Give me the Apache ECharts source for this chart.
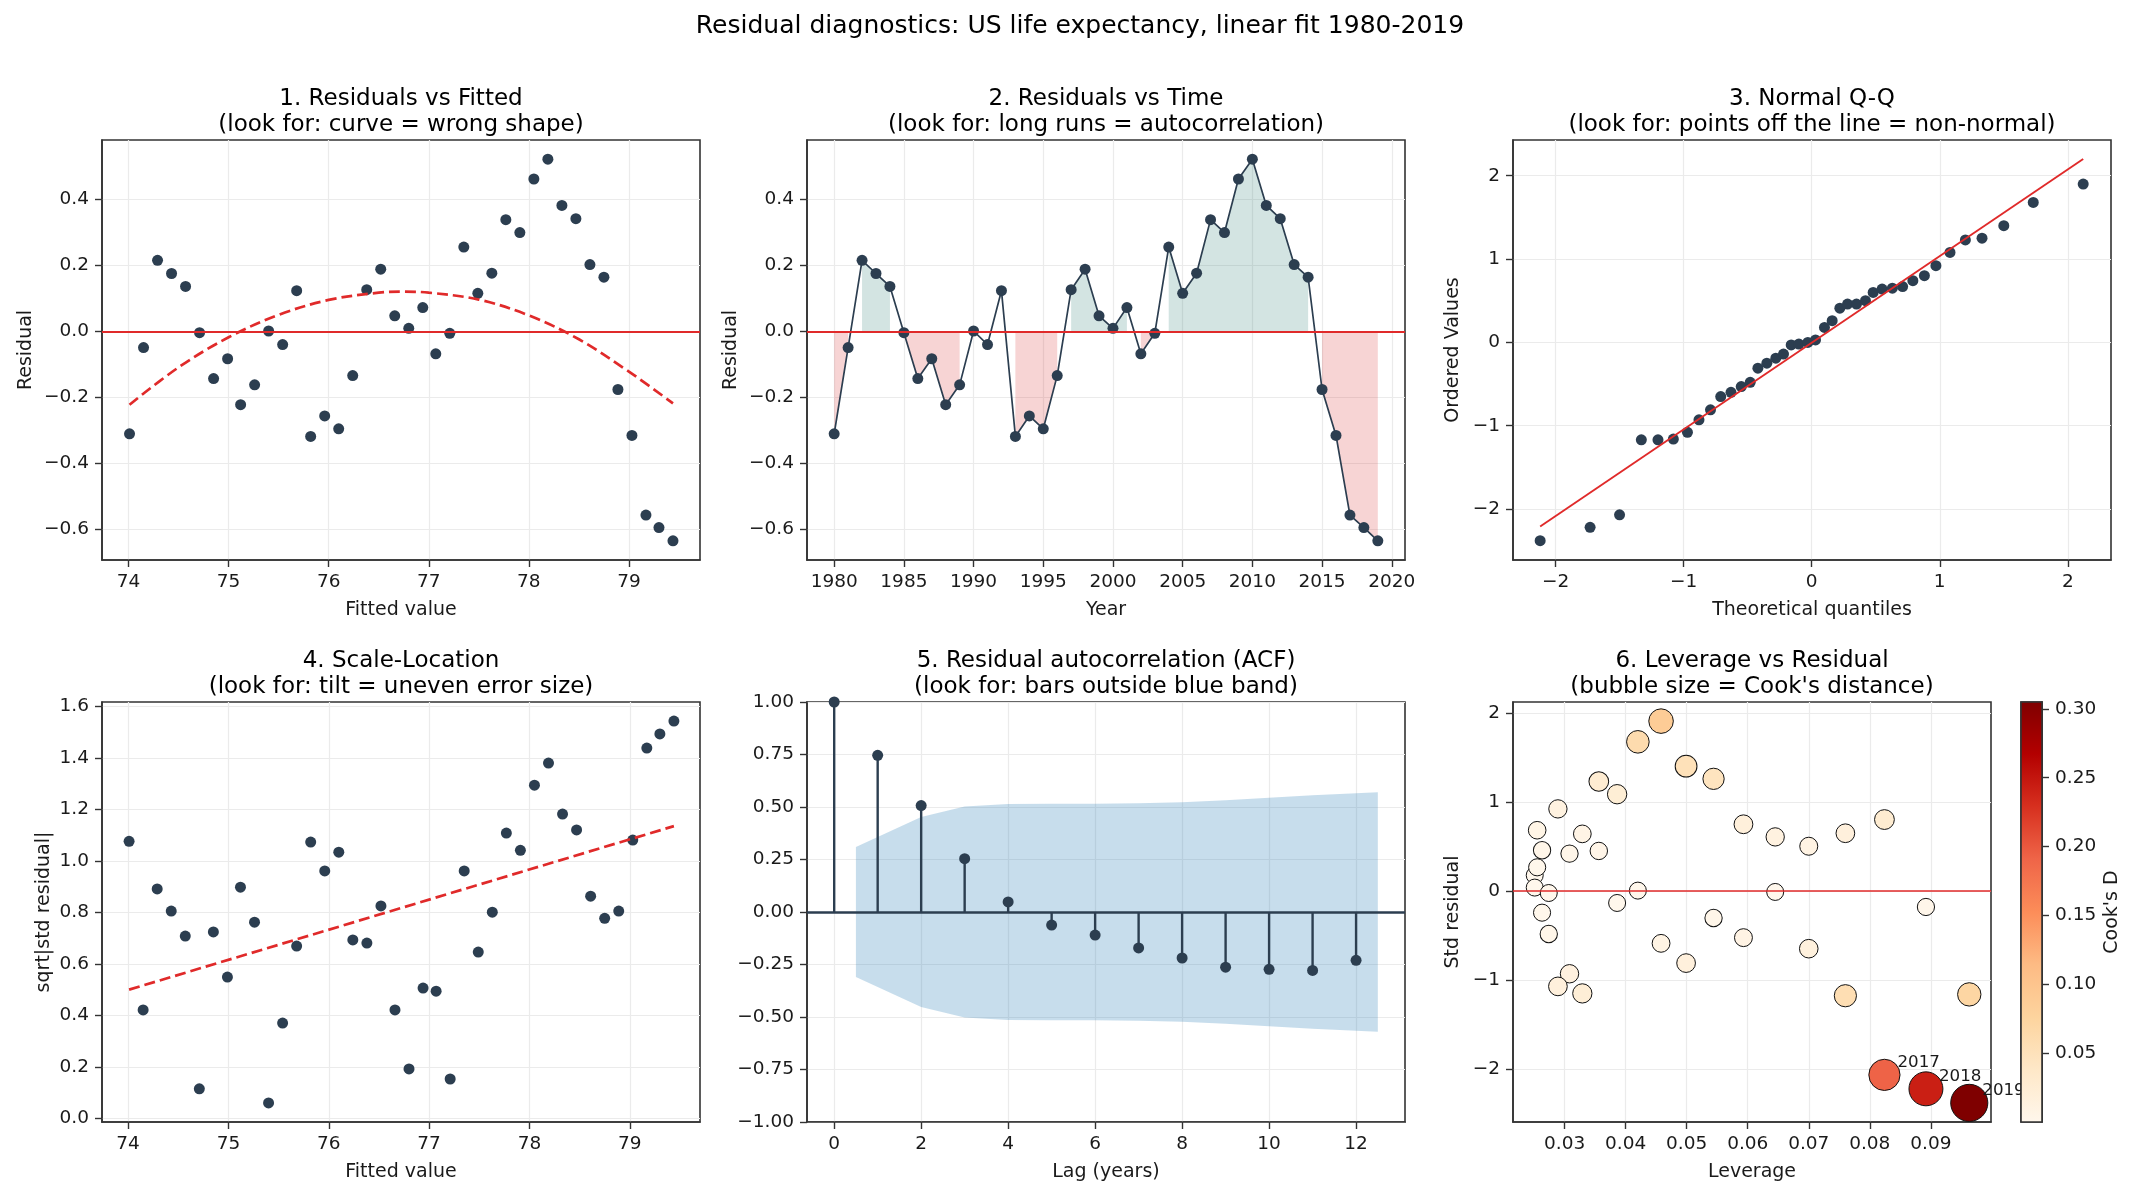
<!DOCTYPE html>
<html>
<head>
<meta charset="utf-8">
<title>Residual diagnostics</title>
<script src="https://cdn.jsdelivr.net/npm/echarts@6.0.0/dist/echarts.min.js"></script>
<style>
html, body { margin: 0; padding: 0; background: #fff; }
#chart { width: 2140px; height: 1195px; }
</style>
</head>
<body>
<div id="chart"></div>
<script>
// ---- data ----
var years = [1980, 1981, 1982, 1983, 1984, 1985, 1986, 1987, 1988, 1989,
    1990, 1991, 1992, 1993, 1994, 1995, 1996, 1997, 1998, 1999,
    2000, 2001, 2002, 2003, 2004, 2005, 2006, 2007, 2008, 2009,
    2010, 2011, 2012, 2013, 2014, 2015, 2016, 2017, 2018, 2019];
var fitted = [74.01, 74.15, 74.29, 74.43, 74.57, 74.71, 74.85, 74.99, 75.12, 75.26,
    75.40, 75.54, 75.68, 75.82, 75.96, 76.10, 76.24, 76.38, 76.52, 76.66,
    76.80, 76.94, 77.07, 77.21, 77.35, 77.49, 77.63, 77.77, 77.91, 78.05,
    78.19, 78.33, 78.47, 78.61, 78.75, 78.89, 79.03, 79.17, 79.30, 79.44];
var residuals = [-0.310, -0.049, 0.215, 0.175, 0.136, -0.004, -0.143, -0.083, -0.222, -0.162,
    0.001, -0.040, 0.123, -0.318, -0.256, -0.295, -0.134, 0.126, 0.188, 0.047,
    0.009, 0.072, -0.068, -0.006, 0.255, 0.115, 0.176, 0.338, 0.299, 0.461,
    0.521, 0.381, 0.341, 0.202, 0.164, -0.176, -0.315, -0.556, -0.594, -0.634];
// dashed quadratic trend in panel 1, read at a few x positions
var curveX = [74.01, 74.5, 75.0, 75.5, 76.0, 76.5, 76.75, 77.0, 77.5, 78.0, 78.5, 79.0, 79.44];
var curveY = [-0.222, -0.109, -0.018, 0.050, 0.095, 0.117, 0.120, 0.117, 0.096, 0.048, -0.024, -0.122, -0.218];

// panel 3: normal Q-Q
var qqTheo = [-2.12, -1.73, -1.50, -1.33, -1.20, -1.08, -0.97, -0.88, -0.79, -0.71,
    -0.63, -0.55, -0.48, -0.42, -0.35, -0.28, -0.22, -0.16, -0.10, -0.03,
    0.03, 0.10, 0.16, 0.22, 0.28, 0.35, 0.42, 0.48, 0.55, 0.63,
    0.71, 0.79, 0.88, 0.97, 1.08, 1.20, 1.33, 1.50, 1.73, 2.12];
var qqOrdered = [-2.38, -2.22, -2.07, -1.17, -1.17, -1.16, -1.08, -0.93, -0.81, -0.65,
    -0.60, -0.53, -0.48, -0.31, -0.25, -0.19, -0.14, -0.03, -0.02, 0.00,
    0.03, 0.18, 0.26, 0.41, 0.46, 0.46, 0.50, 0.60, 0.64, 0.65,
    0.67, 0.74, 0.80, 0.92, 1.08, 1.23, 1.25, 1.40, 1.68, 1.90];
var qqLineX = [-2.12, 2.12];
var qqLineY = [-2.21, 2.20];

// panel 4: scale-location
var sqrtStdResid = [1.076, 0.421, 0.891, 0.805, 0.708, 0.115, 0.724, 0.549, 0.898, 0.762,
    0.060, 0.370, 0.669, 1.073, 0.961, 1.034, 0.693, 0.681, 0.825, 0.421,
    0.192, 0.506, 0.494, 0.153, 0.961, 0.646, 0.801, 1.108, 1.041, 1.294,
    1.380, 1.182, 1.120, 0.863, 0.777, 0.805, 1.081, 1.438, 1.493, 1.543];
var scaleTrendX = [74.01, 79.44];
var scaleTrendY = [0.500, 1.135];

// panel 5: ACF
var acfLags = [0, 1, 2, 3, 4, 5, 6, 7, 8, 9, 10, 11, 12];
var acfValues = [1.00, 0.746, 0.507, 0.254, 0.048, -0.062, -0.110, -0.171, -0.219, -0.263, -0.273, -0.278, -0.230];
var bandLags = [0.5, 2, 3, 4, 5, 6, 7, 8, 9, 10, 11, 12.5];
var bandHalf = [0.310, 0.452, 0.502, 0.514, 0.515, 0.516, 0.518, 0.523, 0.532, 0.544, 0.556, 0.570];

// panel 6: leverage vs std residual, Cook's D
var leverage = [0.0963, 0.0892, 0.0824, 0.0760, 0.0700, 0.0645, 0.0593, 0.0544, 0.0499, 0.0458,
    0.0420, 0.0386, 0.0356, 0.0329, 0.0308, 0.0289, 0.0274, 0.0263, 0.0255, 0.0251,
    0.0251, 0.0255, 0.0263, 0.0274, 0.0289, 0.0308, 0.0329, 0.0356, 0.0386, 0.0420,
    0.0458, 0.0499, 0.0544, 0.0593, 0.0645, 0.0700, 0.0760, 0.0824, 0.0892, 0.0963];
var stdResid = [-1.163, -0.180, 0.803, 0.649, 0.503, -0.011, -0.525, -0.304, -0.811, -0.589,
    0.004, -0.135, 0.450, -1.152, -0.931, -1.073, -0.484, 0.458, 0.683, 0.176,
    0.038, 0.266, -0.244, -0.023, 0.923, 0.420, 0.642, 1.231, 1.088, 1.677,
    1.910, 1.403, 1.261, 0.750, 0.608, -0.649, -1.178, -2.068, -2.225, -2.383];
var cooksD = [0.072, 0.002, 0.029, 0.017, 0.010, 0.000, 0.009, 0.003, 0.017, 0.008,
    0.000, 0.000, 0.004, 0.023, 0.014, 0.017, 0.003, 0.003, 0.006, 0.000,
    0.000, 0.001, 0.001, 0.000, 0.013, 0.003, 0.007, 0.028, 0.024, 0.062,
    0.088, 0.052, 0.046, 0.018, 0.013, 0.016, 0.057, 0.192, 0.242, 0.305];
var labelYears = [2017, 2018, 2019];

// tick labels
var residTicks = [-0.6, -0.4, -0.2, 0, 0.2, 0.4];
var fittedTicks = [74, 75, 76, 77, 78, 79];
var yearTicks = [1980, 1985, 1990, 1995, 2000, 2005, 2010, 2015, 2020];
var qqTicks = [-2, -1, 0, 1, 2];
var scaleTicks = [0, 0.2, 0.4, 0.6, 0.8, 1.0, 1.2, 1.4, 1.6];
var lagTicks = [0, 2, 4, 6, 8, 10, 12];
var acfTicks = [-1, -0.75, -0.5, -0.25, 0, 0.25, 0.5, 0.75, 1];
var levTicks = [0.03, 0.04, 0.05, 0.06, 0.07, 0.08, 0.09];
var stdTicks = [-2, -1, 0, 1, 2];
var cookTicks = [0.05, 0.10, 0.15, 0.20, 0.25, 0.30];

// ---- styling ----
var FONT = 'DejaVu Sans';
var INK = '#1a1a1a';
var NAVY = '#2c3e50';
var RED = '#e02a2a';
var ORRD = ['#fff7ec', '#fee8c8', '#fdd49e', '#fdbb84', '#fc8d59', '#ef6548', '#d7301f', '#b30000', '#7f0000'];
var cbMin = 0.0;
var cbMax = Math.max.apply(null, cooksD);

function fixed(d) {
    return function (v) { return (v < -1e-9 ? '\u2212' : '') + Math.abs(v).toFixed(d); };
}
function plain(v) { return String(v); }

function axis(o) {
    return {
        type: 'value', gridIndex: o.grid, min: o.min, max: o.max,
        show: o.show !== false,
        position: o.position,
        name: o.name || '', nameLocation: 'middle', nameGap: o.nameGap || 0,
        nameRotate: o.rotate || 0,
        nameTextStyle: { fontSize: 19, color: INK, fontFamily: FONT },
        axisLine: { show: true, onZero: false, lineStyle: { color: '#333', width: 1.6 } },
        axisTick: { show: true, length: 7, customValues: o.ticks, lineStyle: { color: '#333', width: 1.4 } },
        axisLabel: { customValues: o.ticks, formatter: o.fmt, fontSize: 18.5, color: INK, fontFamily: FONT, margin: 13 },
        splitLine: { show: o.split !== false, lineStyle: { color: '#ebebeb', width: 1.2 } }
    };
}

function grid(left, top, width) {
    return { left: left, top: top, width: width, height: 420, show: true,
        borderColor: '#333', borderWidth: 1.6, backgroundColor: 'transparent' };
}

function zeroLine(color, width) {
    return { silent: true, symbol: ['none', 'none'], animation: false, label: { show: false },
        lineStyle: { color: color, width: width, type: 'solid' }, data: [{ yAxis: 0 }] };
}

function pairs(xs, ys) {
    return xs.map(function (x, i) { return [x, ys[i]]; });
}

function titleAt(cx, top, text) {
    return { text: text, left: cx, top: top, textAlign: 'center', padding: 0,
        textStyle: { fontSize: 23, lineHeight: 26, fontWeight: 'normal', color: '#000', fontFamily: FONT } };
}

var chart = echarts.init(document.getElementById('chart'));

var option = {
    animation: false,
    backgroundColor: '#fff',
    textStyle: { fontFamily: FONT },
    title: [
        { text: 'Residual diagnostics: US life expectancy, linear fit 1980-2019', left: 1080, top: 12,
          textAlign: 'center', padding: 0,
          textStyle: { fontSize: 25, lineHeight: 28, fontWeight: 'normal', color: '#000', fontFamily: FONT } },
        titleAt(401, 86, '1. Residuals vs Fitted\n(look for: curve = wrong shape)'),
        titleAt(1106, 86, '2. Residuals vs Time\n(look for: long runs = autocorrelation)'),
        titleAt(1812, 86, '3. Normal Q-Q\n(look for: points off the line = non-normal)'),
        titleAt(401, 648, '4. Scale-Location\n(look for: tilt = uneven error size)'),
        titleAt(1106, 648, '5. Residual autocorrelation (ACF)\n(look for: bars outside blue band)'),
        titleAt(1752, 648, "6. Leverage vs Residual\n(bubble size = Cook's distance)")
    ],
    grid: [
        grid(102, 140, 598), grid(807, 140, 598), grid(1513, 140, 598),
        grid(102, 702, 598), grid(807, 702, 598), grid(1513, 702, 478),
        grid(2021, 702, 21)
    ],
    xAxis: [
        axis({ grid: 0, min: 73.735, max: 79.71, ticks: fittedTicks, fmt: plain, name: 'Fitted value', nameGap: 41 }),
        axis({ grid: 1, min: 1978.05, max: 2020.95, ticks: yearTicks, fmt: plain, name: 'Year', nameGap: 41 }),
        axis({ grid: 2, min: -2.332, max: 2.337, ticks: qqTicks, fmt: fixed(0), name: 'Theoretical quantiles', nameGap: 41 }),
        axis({ grid: 3, min: 73.74, max: 79.70, ticks: fittedTicks, fmt: plain, name: 'Fitted value', nameGap: 41 }),
        axis({ grid: 4, min: -0.625, max: 13.125, ticks: lagTicks, fmt: plain, name: 'Lag (years)', nameGap: 41 }),
        axis({ grid: 5, min: 0.02154, max: 0.09986, ticks: levTicks, fmt: fixed(2), name: 'Leverage', nameGap: 41 }),
        axis({ grid: 6, min: 0, max: 1, show: false, split: false })
    ],
    yAxis: [
        axis({ grid: 0, min: -0.692, max: 0.579, ticks: residTicks, fmt: fixed(1), name: 'Residual', nameGap: 66, rotate: 90 }),
        axis({ grid: 1, min: -0.692, max: 0.579, ticks: residTicks, fmt: fixed(1), name: 'Residual', nameGap: 66, rotate: 90 }),
        axis({ grid: 2, min: -2.612, max: 2.429, ticks: qqTicks, fmt: fixed(0), name: 'Ordered Values', nameGap: 50, rotate: 90 }),
        axis({ grid: 3, min: -0.014, max: 1.617, ticks: scaleTicks, fmt: fixed(1), name: 'sqrt|std residual|', nameGap: 48, rotate: 90 }),
        axis({ grid: 4, min: -1, max: 1, ticks: acfTicks, fmt: fixed(2) }),
        axis({ grid: 5, min: -2.598, max: 2.125, ticks: stdTicks, fmt: fixed(0), name: 'Std residual', nameGap: 50, rotate: 90 }),
        axis({ grid: 6, min: cbMin, max: cbMax, ticks: cookTicks, fmt: fixed(2), position: 'right',
               name: "Cook's D", nameGap: 61, rotate: 90, split: false })
    ],
    visualMap: [{
        type: 'continuous', show: false, seriesIndex: 12, dimension: 2,
        min: cbMin, max: cbMax, inRange: { color: ORRD }
    }],
    series: [
        // 1. residuals vs fitted
        { type: 'scatter', xAxisIndex: 0, yAxisIndex: 0, data: pairs(fitted, residuals),
          symbolSize: 11, itemStyle: { color: NAVY, opacity: 1 }, markLine: zeroLine(RED, 1.8) },
        { type: 'line', xAxisIndex: 0, yAxisIndex: 0, data: pairs(curveX, curveY), smooth: 0.35,
          symbol: 'none', lineStyle: { color: RED, width: 2.7, type: [11, 5] }, z: 3 },

        // 2. residuals vs time, shaded runs
        { type: 'line', xAxisIndex: 1, yAxisIndex: 1, silent: true, symbol: 'none', connectNulls: false,
          data: years.map(function (y, i) { return [y, residuals[i] > 0 ? residuals[i] : '-']; }),
          lineStyle: { width: 0, opacity: 0 }, areaStyle: { color: 'rgba(35,122,110,0.2)', opacity: 1 } },
        { type: 'line', xAxisIndex: 1, yAxisIndex: 1, silent: true, symbol: 'none', connectNulls: false,
          data: years.map(function (y, i) { return [y, residuals[i] < 0 ? residuals[i] : '-']; }),
          lineStyle: { width: 0, opacity: 0 }, areaStyle: { color: 'rgba(214,39,40,0.2)', opacity: 1 } },
        { type: 'line', xAxisIndex: 1, yAxisIndex: 1, data: pairs(years, residuals),
          symbol: 'circle', symbolSize: 11, showSymbol: true, showAllSymbol: true,
          itemStyle: { color: NAVY }, lineStyle: { color: NAVY, width: 1.7 },
          markLine: zeroLine(RED, 1.8), z: 3 },

        // 3. normal Q-Q
        { type: 'scatter', xAxisIndex: 2, yAxisIndex: 2, data: pairs(qqTheo, qqOrdered),
          symbolSize: 11, itemStyle: { color: NAVY, opacity: 1 } },
        { type: 'line', xAxisIndex: 2, yAxisIndex: 2, data: pairs(qqLineX, qqLineY),
          symbol: 'none', lineStyle: { color: RED, width: 1.9 }, z: 3 },

        // 4. scale-location
        { type: 'scatter', xAxisIndex: 3, yAxisIndex: 3, data: pairs(fitted, sqrtStdResid),
          symbolSize: 11, itemStyle: { color: NAVY, opacity: 1 } },
        { type: 'line', xAxisIndex: 3, yAxisIndex: 3, data: pairs(scaleTrendX, scaleTrendY),
          symbol: 'none', lineStyle: { color: RED, width: 2.7, type: [11, 5] }, z: 3 },

        // 5. ACF: confidence band, stems, markers
        { type: 'custom', xAxisIndex: 4, yAxisIndex: 4, silent: true, data: [[0, 0]], z: 1,
          renderItem: function (params, api) {
              var upper = bandLags.map(function (x, i) { return api.coord([x, bandHalf[i]]); });
              var lower = bandLags.map(function (x, i) { return api.coord([x, -bandHalf[i]]); }).reverse();
              return { type: 'polygon', shape: { points: upper.concat(lower) },
                       style: { fill: 'rgba(31,119,180,0.25)' } };
          } },
        { type: 'custom', xAxisIndex: 4, yAxisIndex: 4, silent: true, data: pairs(acfLags, acfValues), z: 2,
          renderItem: function (params, api) {
              var a = api.coord([api.value(0), 0]);
              var b = api.coord([api.value(0), api.value(1)]);
              return { type: 'line', shape: { x1: a[0], y1: a[1], x2: b[0], y2: b[1] },
                       style: { stroke: NAVY, lineWidth: 2.4 } };
          } },
        { type: 'scatter', xAxisIndex: 4, yAxisIndex: 4, data: pairs(acfLags, acfValues),
          symbolSize: 11, itemStyle: { color: NAVY, opacity: 1 }, markLine: zeroLine(NAVY, 2.6), z: 3 },

        // 6. leverage vs residual bubbles
        { type: 'scatter', xAxisIndex: 5, yAxisIndex: 5,
          data: leverage.map(function (h, i) {
              var item = { value: [h, stdResid[i], cooksD[i], years[i]] };
              if (labelYears.indexOf(years[i]) >= 0) {
                  item.label = { show: true, position: 'inside', align: 'left', verticalAlign: 'middle',
                                 offset: [13, -12], color: INK, fontSize: 16.7, fontFamily: FONT,
                                 formatter: function (p) { return String(p.value[3]); } };
              }
              return item;
          }),
          symbolSize: function (v) { return Math.sqrt(289 + 3568 * v[2]); },
          itemStyle: { borderColor: '#111', borderWidth: 1, opacity: 1 },
          markLine: zeroLine(RED, 1.6) },

        // colour bar for Cook's D
        { type: 'custom', xAxisIndex: 6, yAxisIndex: 6, silent: true, data: [[0, cbMin]], z: 10,
          renderItem: function (params, api) {
              var tl = api.coord([0, cbMax]);
              var br = api.coord([1, cbMin]);
              var stops = ORRD.map(function (c, i) { return { offset: i / (ORRD.length - 1), color: c }; });
              return { type: 'rect', shape: { x: tl[0], y: tl[1], width: br[0] - tl[0], height: br[1] - tl[1] },
                       style: { fill: new echarts.graphic.LinearGradient(0, 1, 0, 0, stops), stroke: '#333', lineWidth: 1.6 } };
          } }
    ]
};

chart.setOption(option);
</script>
</body>
</html>
